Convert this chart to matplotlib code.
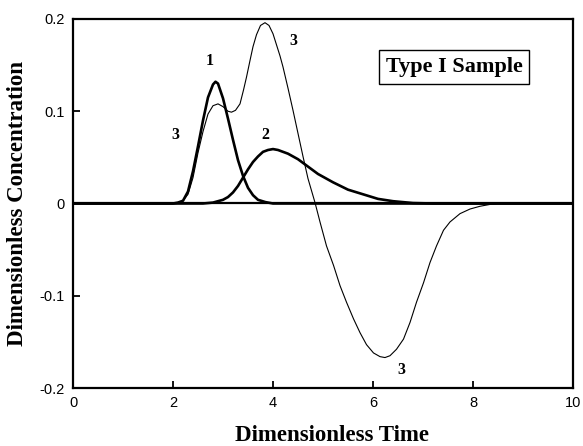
import numpy as np
import matplotlib
matplotlib.use("Agg")
from matplotlib import pyplot as plt

# curve 1 (thick)
t1 = [0, 2.0, 2.1, 2.2, 2.3, 2.4, 2.5, 2.6, 2.7, 2.8, 2.85, 2.9, 3.0, 3.1,
      3.2, 3.3, 3.4, 3.5, 3.6, 3.7, 3.85, 4.0, 10]
c1 = [0, 0, 0.001, 0.003, 0.013, 0.035, 0.062, 0.090, 0.115, 0.129, 0.132,
      0.130, 0.114, 0.092, 0.069, 0.047, 0.030, 0.017, 0.009, 0.004, 0.0015,
      0, 0]

# curve 2 (thick)
t2 = [0, 2.6, 2.8, 3.0, 3.1, 3.2, 3.3, 3.4, 3.5, 3.6, 3.7, 3.8, 3.9, 4.0,
      4.1, 4.3, 4.5, 4.7, 4.9, 5.2, 5.5, 5.8, 6.1, 6.4, 6.8, 7.2, 10]
c2 = [0, 0, 0.001, 0.004, 0.007, 0.012, 0.019, 0.028, 0.037, 0.045, 0.051,
      0.056, 0.058, 0.059, 0.058, 0.054, 0.048, 0.040, 0.032, 0.023, 0.015,
      0.010, 0.005, 0.0025, 0.0005, 0, 0]

# curve 3 (thin)
t3 = [0, 2.0, 2.1, 2.2, 2.3, 2.4, 2.5, 2.6, 2.7, 2.8, 2.9, 3.0, 3.1, 3.17,
      3.25, 3.34, 3.41, 3.47, 3.54, 3.6, 3.67, 3.75, 3.84, 3.92, 4.0, 4.07,
      4.14, 4.2, 4.3, 4.4, 4.5, 4.6, 4.7, 4.84, 4.94, 5.07, 5.21, 5.34,
      5.47, 5.61, 5.74, 5.87, 6.01, 6.14, 6.24, 6.34, 6.47, 6.61, 6.74,
      6.87, 7.01, 7.14, 7.27, 7.41, 7.54, 7.74, 7.94, 8.14, 8.34, 8.5, 10]
c3 = [0, 0, 0.001, 0.003, 0.010, 0.028, 0.055, 0.078, 0.097, 0.106, 0.108,
      0.105, 0.100, 0.099, 0.101, 0.108, 0.123, 0.137, 0.155, 0.170, 0.183,
      0.193, 0.196, 0.193, 0.184, 0.172, 0.160, 0.148, 0.125, 0.101, 0.076,
      0.051, 0.027, 0.001, -0.020, -0.046, -0.067, -0.089, -0.107, -0.125,
      -0.140, -0.153, -0.162, -0.166, -0.167, -0.165, -0.158, -0.147,
      -0.129, -0.107, -0.086, -0.064, -0.046, -0.029, -0.020, -0.011,
      -0.006, -0.003, -0.001, 0, 0]

xticks = [0, 2, 4, 6, 8, 10]
yticks = [-0.2, -0.1, 0, 0.1, 0.2]
ylabels = ['-0.2', '-0.1', '0', '0.1', '0.2']

# curve labels: text, x, y
labels = [('1', 2.74, 0.155), ('3', 2.04, 0.074), ('3', 4.41, 0.176),
          ('2', 3.84, 0.074), ('3', 6.57, -0.180)]

serif = 'Liberation Serif'
sans = 'Liberation Sans'

fig = plt.figure(figsize=(5.83, 4.46), dpi=100)
ax = fig.add_axes([73 / 583, 1 - 388 / 446, 500 / 583, 369 / 446])

ax.axhline(0, color='k', lw=1.6)
ax.plot(t1, c1, 'k-', lw=1.9)
ax.plot(t2, c2, 'k-', lw=1.9)
ax.plot(t3, c3, 'k-', lw=0.8)

for s, x, y in labels:
    ax.text(x, y, s, family=serif, weight='bold', fontsize=11.5,
            ha='center', va='center')

ax.text(7.62, 0.148, 'Type I Sample', family=serif, weight='bold',
        fontsize=16, ha='center', va='center',
        bbox=dict(boxstyle='square,pad=0.3', fc='white', ec='k', lw=1))

ax.set_xlim(0, 10)
ax.set_ylim(-0.2, 0.2)
ax.set_xticks(xticks)
ax.set_xticklabels([str(v) for v in xticks])
ax.set_yticks(yticks)
ax.set_yticklabels(ylabels)
ax.tick_params(direction='in', length=5, width=1.3, labelsize=10.5, pad=6)
for lab in ax.get_xticklabels() + ax.get_yticklabels():
    lab.set_family(sans)
for sp in ax.spines.values():
    sp.set_linewidth(1.6)

fig.text(332 / 583, (446 - 441) / 446, 'Dimensionless Time', family=serif,
         weight='bold', fontsize=16.5, ha='center', va='baseline')
ax.set_ylabel('Dimensionless Concentration', family=serif, weight='bold',
              fontsize=16.5, labelpad=8)

fig.savefig('out.png', dpi=100)
